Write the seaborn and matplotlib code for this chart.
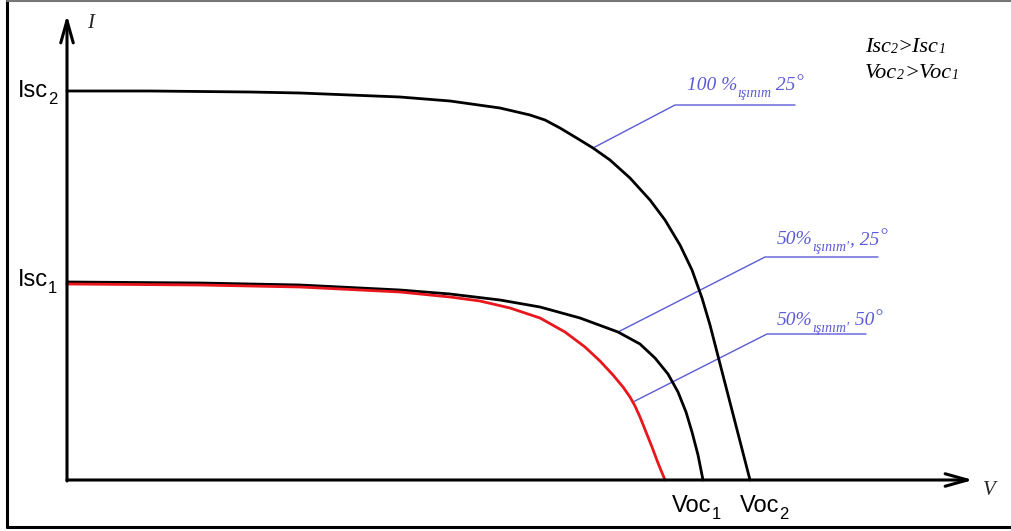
import matplotlib
matplotlib.use("Agg")
import matplotlib.pyplot as plt
import matplotlib.transforms as mtransforms
from matplotlib.lines import Line2D
import seaborn as sns
import pandas as pd

# I-V characteristic curves (V and I in arbitrary units)
v_full_25 = [0.00, 0.83, 1.83, 2.33, 2.83, 3.33, 3.83, 4.33, 4.63, 4.78, 4.93, 5.08, 5.26, 5.43,
             5.63, 5.83, 5.98, 6.13, 6.25, 6.35, 6.43, 6.51, 6.59, 6.67, 6.75, 6.83]
i_full_25 = [3.89, 3.89, 3.88, 3.87, 3.85, 3.83, 3.79, 3.72, 3.65, 3.60, 3.52, 3.43, 3.32, 3.20,
             3.02, 2.80, 2.60, 2.35, 2.10, 1.82, 1.55, 1.24, 0.93, 0.62, 0.31, 0.00]

v_half_25 = [0.00, 1.33, 2.33, 3.33, 3.83, 4.33, 4.73, 5.13, 5.51, 5.73, 5.88, 6.01, 6.11,
             6.19, 6.25, 6.31, 6.36]
i_half_25 = [1.98, 1.97, 1.95, 1.90, 1.86, 1.80, 1.73, 1.62, 1.48, 1.36, 1.22, 1.06, 0.88,
             0.68, 0.48, 0.25, 0.00]

v_half_50 = [0.00, 1.33, 2.33, 3.33, 3.83, 4.13, 4.43, 4.73, 4.98, 5.18, 5.33, 5.46, 5.56,
             5.63, 5.68, 5.73, 5.79, 5.85, 5.91, 5.98]
i_half_50 = [1.96, 1.95, 1.93, 1.88, 1.83, 1.79, 1.72, 1.62, 1.48, 1.33, 1.19, 1.05, 0.93,
             0.83, 0.74, 0.63, 0.48, 0.33, 0.17, 0.00]

curve_palette = {"full25": "black", "half25": "black", "half50": "#e8161d"}
blue = "#5b5bd6"

sns.set_style("white")
plt.rcParams["font.family"] = ["Liberation Sans", "DejaVu Sans"]

fig = plt.figure(figsize=(10.12, 5.31), dpi=100)
ax = fig.add_axes([0, 0, 1, 1])
ax.set_xlim(-0.67, 9.45)
ax.set_ylim(-0.51, 4.80)
ax.axis("off")
renderer = fig.canvas.get_renderer()


def rich(x, y, pieces, color="black", family="Liberation Sans", style="normal"):
    """Write a row of (text, size, baseline shift in pt) pieces starting at (x, y)."""
    xoff = 0.0
    for s, size, dy in pieces:
        tr = mtransforms.offset_copy(ax.transData, fig=fig, x=xoff, y=dy, units="points")
        t = ax.text(x, y, s, transform=tr, fontsize=size, color=color, family=family,
                    style=style, ha="left", va="baseline")
        xoff += t.get_window_extent(renderer).width * 72 / fig.dpi


df = pd.concat([
    pd.DataFrame({"V": v_full_25, "I": i_full_25, "c": "full25"}),
    pd.DataFrame({"V": v_half_25, "I": i_half_25, "c": "half25"}),
    pd.DataFrame({"V": v_half_50, "I": i_half_50, "c": "half50"}),
])
sns.lineplot(data=df, x="V", y="I", hue="c", sort=False, estimator=None,
             palette=curve_palette, linewidth=2.0, legend=False, ax=ax, zorder=3)

# Axes with open arrow heads
arrow = dict(arrowstyle="->,head_length=1.6,head_width=0.45", lw=2.2, color="black",
             shrinkA=0, shrinkB=0)
ax.annotate("", xy=(9.06, 0), xytext=(0, 0), arrowprops=arrow)
ax.annotate("", xy=(0, 4.65), xytext=(0, -0.01), arrowprops=arrow)
ax.text(0.20, 4.52, "I", fontsize=15, family="Liberation Serif", style="italic",
        ha="left", va="baseline")
ax.text(9.16, -0.15, "V", fontsize=15, family="Liberation Serif", style="italic",
        ha="left", va="baseline")

# Short-circuit currents and open-circuit voltages
rich(-0.49, 3.83, [("Isc", 17, 0), ("2", 12, -5)])
rich(-0.49, 1.94, [("Isc", 17, 0), ("1", 12, -5)])
rich(6.05, -0.32, [("Voc", 17, 0), ("1", 12, -5)])
rich(6.73, -0.32, [("Voc", 17, 0), ("2", 12, -5)])

# Leader lines and curve labels
leaders = [((5.26, 3.32), (6.08, 3.75), 7.28),
           ((5.51, 1.48), (6.98, 2.23), 8.11),
           ((5.66, 0.78), (7.00, 1.46), 7.99)]
for p0, p1, x_end in leaders:
    ax.plot([p0[0], p1[0], x_end], [p0[1], p1[1], p1[1]], color=blue, lw=1.0, zorder=2)

serif_it = dict(color=blue, family="Liberation Serif", style="italic")
rich(6.20, 3.90, [("100 %", 14, 0), ("ışınım", 10, -5), (" 25", 14, 0), ("°", 14, 2)], **serif_it)
rich(7.10, 2.36, [("50%", 14, 0), ("ışınım'", 10, -5), (", 25", 14, 0), ("°", 14, 2)], **serif_it)
rich(7.10, 1.55, [("50%", 14, 0), ("ışınım'", 10, -5), (" 50", 14, 0), ("°", 14, 2)], **serif_it)

# Relations between the two operating points
rel = dict(family="Liberation Serif", style="italic")
rich(7.98, 4.28, [("Isc", 16, 0), ("2", 10, -1), (">Isc", 16, 0), ("1", 10, -1)], **rel)
rich(7.98, 4.02, [("Voc", 16, 0), ("2", 10, -1), (">Voc", 16, 0), ("1", 10, -1)], **rel)

# Page frame
fig.add_artist(Line2D([0.0066, 0.0066], [0.0075, 1.0], transform=fig.transFigure,
                      color="black", lw=2.2))
fig.add_artist(Line2D([0.0066, 1.0], [0.0075, 0.0075], transform=fig.transFigure,
                      color="black", lw=2.2))
fig.add_artist(Line2D([0.0066, 1.0], [0.999, 0.999], transform=fig.transFigure,
                      color="#777777", lw=1.5))

fig.savefig("out.png", dpi=100, facecolor="white")
